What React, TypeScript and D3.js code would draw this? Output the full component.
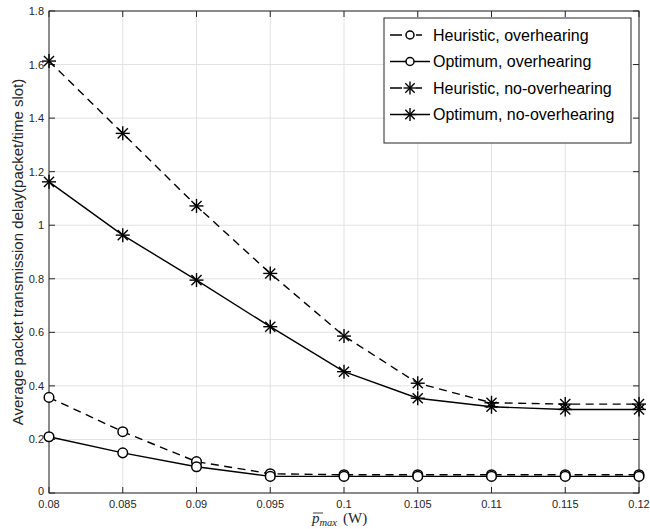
import * as d3 from "d3";
import React from "react";

// x values (W)
const pmax = [0.08, 0.085, 0.09, 0.095, 0.1, 0.105, 0.11, 0.115, 0.12];
const xTicks = [0.08, 0.085, 0.09, 0.095, 0.1, 0.105, 0.11, 0.115, 0.12];
const yTicks = [0, 0.2, 0.4, 0.6, 0.8, 1, 1.2, 1.4, 1.6, 1.8];

const heurOver = [0.357, 0.229, 0.117, 0.072, 0.068, 0.068, 0.068, 0.068, 0.068];
const optOver = [0.21, 0.15, 0.098, 0.062, 0.062, 0.062, 0.062, 0.062, 0.062];
const heurNoOver = [1.613, 1.343, 1.072, 0.82, 0.586, 0.41, 0.337, 0.332, 0.332];
const optNoOver = [1.162, 0.963, 0.795, 0.621, 0.453, 0.354, 0.322, 0.312, 0.312];

const seriesNames = [
  "Heuristic, overhearing",
  "Optimum, overhearing",
  "Heuristic, no-overhearing",
  "Optimum, no-overhearing",
];

const W = 650;
const H = 529;
const left = 49, right = 639, top = 11, bottom = 493;
const ink = "#262626";
const tickFont = "'Liberation Sans', Arial, sans-serif";

function Star({ x, y, r = 7 }: { x: number; y: number; r?: number }) {
  const d = r * 0.72;
  return (
    <g stroke="#000" strokeWidth={1.4}>
      <line x1={x - r} y1={y} x2={x + r} y2={y} />
      <line x1={x} y1={y - r} x2={x} y2={y + r} />
      <line x1={x - d} y1={y - d} x2={x + d} y2={y + d} />
      <line x1={x - d} y1={y + d} x2={x + d} y2={y - d} />
    </g>
  );
}

function Circle({ x, y, r = 4.8 }: { x: number; y: number; r?: number }) {
  return <circle cx={x} cy={y} r={r} fill="#fff" stroke="#000" strokeWidth={1.5} />;
}

export default function App() {
  const x = d3.scaleLinear().domain([0.08, 0.12]).range([left, right]);
  const y = d3.scaleLinear().domain([0, 1.8]).range([bottom, top]);
  const line = d3
    .line<number>()
    .x((_, i) => x(pmax[i]))
    .y((v) => y(v));

  const series = [
    { vals: heurOver, dash: "8,5.5", marker: "o" },
    { vals: optOver, dash: null, marker: "o" },
    { vals: heurNoOver, dash: "8,5.5", marker: "*" },
    { vals: optNoOver, dash: null, marker: "*" },
  ];

  // legend layout
  const lgX = 384, lgY = 18, lgW = 247, lgH = 125;
  const rowY = [35, 61.5, 88, 114.5];
  const l0 = 390, l1 = 430, lm = 410;

  return (
    <svg
      width={W}
      height={H}
      style={{ position: "absolute", left: 0, top: 0, background: "#fff" }}
    >
      <rect x={0} y={0} width={W} height={H} fill="#fff" />
      {/* grid */}
      <g stroke="#e2e2e2" strokeWidth={1}>
        {xTicks.map((t) => (
          <line key={"gx" + t} x1={x(t)} x2={x(t)} y1={top} y2={bottom} />
        ))}
        {yTicks.map((t) => (
          <line key={"gy" + t} x1={left} x2={right} y1={y(t)} y2={y(t)} />
        ))}
      </g>

      {/* ticks (inward, all four sides) */}
      <g stroke={ink} strokeWidth={1}>
        {xTicks.map((t) => (
          <g key={"tx" + t}>
            <line x1={x(t)} x2={x(t)} y1={bottom} y2={bottom - 6} />
            <line x1={x(t)} x2={x(t)} y1={top} y2={top + 6} />
          </g>
        ))}
        {yTicks.map((t) => (
          <g key={"ty" + t}>
            <line x1={left} x2={left + 6} y1={y(t)} y2={y(t)} />
            <line x1={right} x2={right - 6} y1={y(t)} y2={y(t)} />
          </g>
        ))}
      </g>
      <rect
        x={left}
        y={top}
        width={right - left}
        height={bottom - top}
        fill="none"
        stroke={ink}
        strokeWidth={1}
      />

      {/* tick labels */}
      <g fontFamily={tickFont} fontSize={11} fill={ink}>
        {xTicks.map((t) => (
          <text key={"lx" + t} x={x(t)} y={bottom + 15} textAnchor="middle">
            {String(t)}
          </text>
        ))}
        {yTicks.map((t) => (
          <text key={"ly" + t} x={left - 5} y={y(t) + (t === 0 ? 2 : 4)} textAnchor="end">
            {String(t)}
          </text>
        ))}
      </g>

      {/* series */}
      {series.map((s, si) => (
        <g key={"s" + si}>
          <path
            d={line(s.vals) || ""}
            fill="none"
            stroke="#000"
            strokeWidth={1.4}
            strokeDasharray={s.dash || undefined}
          />
          {s.vals.map((v, i) =>
            s.marker === "o" ? (
              <Circle key={i} x={x(pmax[i])} y={y(v)} />
            ) : (
              <Star key={i} x={x(pmax[i])} y={y(v)} />
            )
          )}
        </g>
      ))}

      {/* axis labels */}
      <text
        transform={`translate(23,${(top + bottom) / 2}) rotate(-90)`}
        textAnchor="middle"
        fontFamily={tickFont}
        fontSize={15}
        fill={ink}
      >
        Average packet transmission delay(packet/time slot)
      </text>
      <g fontFamily="'Liberation Serif', 'DejaVu Serif', serif" fill={ink}>
        <line x1={313} x2={323} y1={513} y2={513} stroke={ink} strokeWidth={0.9} />
        <text x={312} y={523} fontSize={15} fontStyle="italic">
          p
          <tspan fontSize={10.5} dy={2.5}>max</tspan>
          <tspan fontStyle="normal" fontSize={15} dy={-2.5} dx={6}>(W)</tspan>
        </text>
      </g>

      {/* legend */}
      <rect x={lgX} y={lgY} width={lgW} height={lgH} fill="#fff" stroke={ink} strokeWidth={1} />
      {series.map((s, i) => (
        <g key={"lg" + i}>
          {s.dash ? (
            <path
              d={`M${l0},${rowY[i]}H${lm - 8}M${lm + 6},${rowY[i]}H${l1 - 8}`}
              stroke="#000"
              strokeWidth={1.4}
            />
          ) : (
            <line x1={l0} x2={l1} y1={rowY[i]} y2={rowY[i]} stroke="#000" strokeWidth={1.4} />
          )}
          {s.marker === "o" ? (
            <Circle x={lm} y={rowY[i]} r={4} />
          ) : (
            <Star x={lm} y={rowY[i]} r={6.5} />
          )}
          <text
            x={l1 + 3}
            y={rowY[i] + 5.5}
            fontFamily={tickFont}
            fontSize={16}
            fill="#000"
          >
            {seriesNames[i]}
          </text>
        </g>
      ))}
    </svg>
  );
}
